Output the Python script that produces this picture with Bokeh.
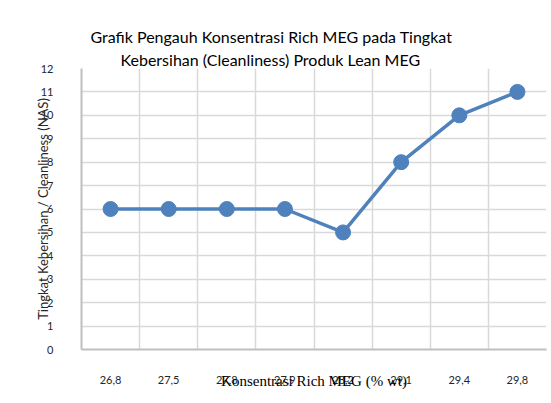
from bokeh.plotting import figure
from bokeh.models import Range1d, FixedTicker, Title, ColumnDataSource
from bokeh.embed import file_html
from bokeh.resources import INLINE

# ---- data ----
categories = ["26,8", "27,5", "27,8", "27,9", "28,2", "29,1", "29,4", "29,8"]
nas_values = [6, 6, 6, 6, 5, 8, 10, 11]
y_ticks = list(range(0, 13))
title_lines = ["Grafik Pengauh Konsentrasi Rich MEG pada Tingkat",
               "Kebersihan (Cleanliness) Produk Lean MEG"]
x_label = "Konsentrasi Rich MEG (% wt)"
y_label = "Tingkat Kebersihan / Cleanliness (NAS)"

n = len(categories)
xpos = [i + 0.5 for i in range(n)]
src = ColumnDataSource(dict(x=xpos, y=nas_values, cat=categories))

p = figure(width=551, height=403, output_backend="svg", toolbar_location=None,
           x_range=Range1d(0, n), y_range=Range1d(0, 12),
           min_border_left=81, min_border_right=5, min_border_top=68, min_border_bottom=54)
p.outline_line_color = None
p.background_fill_color = "white"
p.border_fill_color = "white"

# title: first line is the outer one, second line is added nearest the frame
p.title.text = title_lines[0]
p.title.align = "left"
p.title.offset = 9
p.title.standoff = 4
p.title.text_font = "Lato"
p.title.text_font_size = "16px"
p.title.text_font_style = "normal"
p.title.text_color = "#000000"
p.add_layout(Title(text=title_lines[1], align="left", offset=39, standoff=0,
                   text_font="Lato", text_font_size="16px", text_font_style="normal",
                   text_color="#000000"), "above")

# grids
p.xgrid.ticker = FixedTicker(ticks=list(range(1, n + 1)))
p.ygrid.ticker = FixedTicker(ticks=y_ticks)
for g in (p.xgrid, p.ygrid):
    g.grid_line_color = "#d9d9d9"
    g.grid_line_width = 1.5

# axes
p.xaxis.ticker = FixedTicker(ticks=xpos)
p.xaxis.major_label_overrides = {x: c for x, c in zip(xpos, categories)}
p.yaxis.ticker = FixedTicker(ticks=y_ticks)
for ax in (p.xaxis, p.yaxis):
    ax.axis_line_color = "#bfbfbf"
    ax.axis_line_width = 2
    ax.major_tick_line_color = None
    ax.minor_tick_line_color = None
    ax.major_label_text_font = "Lato"
    ax.major_label_text_font_size = "11px"
    ax.major_label_text_color = "#262626"
    ax.axis_label_text_font_style = "normal"
p.xaxis.major_label_standoff = 20
p.yaxis.major_label_standoff = 22

p.xaxis.axis_label = x_label
p.xaxis.axis_label_text_font = "Liberation Serif"
p.xaxis.axis_label_text_font_size = "15px"
p.xaxis.axis_label_text_color = "#000000"
p.xaxis.axis_label_standoff = -14

p.yaxis.axis_label = y_label
p.yaxis.axis_label_text_font = "Lato"
p.yaxis.axis_label_text_font_size = "13px"
p.yaxis.axis_label_text_color = "#262626"
p.yaxis.axis_label_standoff = -13

# series
p.line("x", "y", source=src, line_color="#4f81bd", line_width=3.5)
p.scatter("x", "y", source=src, size=15, fill_color="#4f81bd", line_color="#4f81bd")

open("out.html", "w").write(file_html(p, INLINE))
